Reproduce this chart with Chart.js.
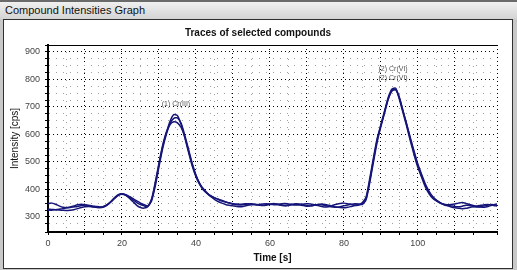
<!DOCTYPE html>
<html>
<head>
<meta charset="utf-8">
<script src="https://cdn.jsdelivr.net/npm/chart.js@4.4.1/dist/chart.umd.min.js"></script>
<style>
  body { margin: 0; width: 517px; height: 270px; background: #c8c8c8; overflow: hidden; position: relative; font-family: "Liberation Sans", Arial, sans-serif; }
  #bar { position: absolute; left: 0; top: 0; width: 517px; height: 19px; background: linear-gradient(#f0f0f0, #d4d4d4); border-top: 2px solid #6a6a6a; box-sizing: border-box; }
  #bar span { position: absolute; left: 5px; top: 2px; font-size: 11px; color: #111; }
  #panel { position: absolute; left: 3px; top: 19px; width: 508px; height: 248px; background: #fff; border: 1px solid #303030; }
  canvas { position: absolute; left: 0; top: 0; }
</style>
</head>
<body>
<div id="bar"><span>Compound Intensities Graph</span></div>
<div id="panel"></div>
<canvas id="graph" width="517" height="270"></canvas>
<script>
'use strict';

// time points [s]
const times = [
  0, 1, 2, 3, 4, 5, 6, 7, 8, 9, 10, 11, 12, 13, 14, 15, 16, 17, 18, 19,
  20, 21, 22, 23, 24, 25, 26, 27, 28, 29, 30, 31, 32, 33, 34, 35, 36, 37, 38, 39,
  40, 41, 42, 43, 44, 45, 46, 47, 48, 49, 50, 51, 52, 53, 54, 55, 56, 57, 58, 59,
  60, 61, 62, 63, 64, 65, 66, 67, 68, 69, 70, 71, 72, 73, 74, 75, 76, 77, 78, 79,
  80, 81, 82, 83, 84, 85, 86, 87, 88, 89, 90, 91, 92, 93, 94, 95, 96, 97, 98, 99,
  100, 101, 102, 103, 104, 105, 106, 107, 108, 109, 110, 111, 112, 113, 114, 115, 116, 117, 118, 119,
  120, 121, 122
];

// intensity traces [cps]
const trace1 = [
  348, 350, 346, 340, 335, 333, 334, 336, 338, 341, 343, 342, 340, 338, 336, 338, 345, 356, 370, 381,
  384, 380, 372, 362, 352, 345, 340, 338, 362, 420, 490, 556, 606, 648, 672, 668, 636, 588, 535, 485,
  446, 418, 398, 385, 375, 369, 364, 358, 354, 351, 348, 347, 346, 347, 348, 346, 344, 345, 347, 348,
  346, 344, 345, 347, 349, 347, 345, 343, 344, 346, 348, 347, 344, 341, 338, 336, 338, 342, 346, 349,
  350, 348, 345, 343, 344, 352, 372, 440, 515, 585, 635, 685, 735, 765, 768, 728, 678, 628, 575, 525,
  480, 445, 410, 385, 368, 358, 350, 345, 342, 340, 338, 337, 339, 342, 341, 338, 336, 337, 340, 343,
  345, 343, 341
];
const trace2 = [
  325, 324, 326, 328, 330, 333, 336, 340, 344, 346, 344, 340, 337, 335, 334, 337, 344, 355, 368, 379,
  383, 381, 374, 366, 358, 350, 344, 340, 358, 412, 482, 548, 600, 640, 658, 660, 640, 596, 545, 494,
  452, 422, 402, 388, 377, 370, 364, 360, 355, 350, 346, 344, 343, 345, 347, 348, 346, 343, 342, 344,
  347, 349, 347, 344, 342, 343, 346, 348, 347, 344, 341, 340, 342, 345, 347, 345, 342, 339, 336, 334,
  333, 335, 338, 341, 343, 348, 366, 432, 508, 580, 632, 682, 730, 760, 764, 735, 685, 635, 582, 532,
  486, 450, 415, 390, 372, 360, 352, 346, 344, 345, 347, 350, 352, 349, 345, 341, 338, 336, 335, 338,
  342, 346, 348
];
const trace3 = [
  328, 327, 326, 325, 324, 323, 324, 326, 330, 334, 337, 338, 337, 335, 334, 336, 343, 354, 367, 378,
  382, 378, 368, 355, 342, 334, 332, 338, 365, 425, 495, 560, 608, 636, 646, 642, 625, 590, 540, 490,
  450, 420, 400, 386, 374, 364, 356, 350, 345, 342, 340, 338, 337, 339, 342, 344, 345, 343, 341, 342,
  345, 347, 345, 342, 340, 341, 344, 346, 344, 341, 339, 340, 343, 345, 344, 341, 338, 336, 335, 337,
  340, 343, 346, 348, 347, 345, 362, 425, 500, 572, 628, 678, 728, 758, 762, 732, 684, 636, 586, 538,
  492, 455, 420, 394, 374, 361, 352, 345, 340, 336, 333, 331, 330, 331, 334, 337, 340, 342, 344, 345,
  343, 340, 338
];

// peak labels
const labelTimes = [34.6, 93.3];
const labelTexts = [['(1) Cr(III)'], ['(2) Cr(VI)', '(2) Cr(VI)']];

const lineColor = '#16167a';
const fontFamily = '"Liberation Sans", Arial, sans-serif';

function toPoints(values) {
  return values.map((v, i) => ({ x: times[i], y: v }));
}

// major grid lines: x every 10 s (and right edge), y every 100 cps
function isMajorX(c) {
  return c.tick && (c.tick.value % 10 === 0 || c.tick.value > 121);
}
function isMajorY(c) {
  return c.tick && c.tick.value % 100 === 0;
}

// text above each peak
const peakLabels = {
  id: 'peakLabels',
  afterDatasetsDraw(chart) {
    const ctx = chart.ctx;
    const xs = chart.scales.x;
    const ys = chart.scales.y;
    ctx.save();
    ctx.font = '7px ' + fontFamily;
    ctx.fillStyle = '#555';
    ctx.textAlign = 'center';
    ctx.textBaseline = 'bottom';
    labelTimes.forEach((t, n) => {
      let top = -Infinity;
      chart.data.datasets.forEach(ds => {
        ds.data.forEach(p => {
          if (Math.abs(p.x - t) <= 2 && p.y > top) top = p.y;
        });
      });
      const px = xs.getPixelForValue(t);
      let py = ys.getPixelForValue(top) - 7;
      const lines = labelTexts[n];
      for (let k = lines.length - 1; k >= 0; k--) {
        ctx.fillText(lines[k], px, py);
        py -= 9;
      }
    });
    ctx.restore();
  }
};

new Chart(document.getElementById('graph'), {
  type: 'line',
  data: {
    datasets: [trace1, trace2, trace3].map((tr, i) => ({
      label: 'trace ' + (i + 1),
      data: toPoints(tr),
      borderColor: lineColor,
      backgroundColor: 'transparent',
      borderWidth: 1.5,
      pointRadius: 0,
      tension: 0.2,
      fill: false
    }))
  },
  options: {
    responsive: false,
    animation: false,
    layout: { padding: { left: 4, right: 5, top: 20, bottom: 2 } },
    scales: {
      x: {
        type: 'linear',
        min: 0,
        max: 121.4,
        // border.dash is used for the grid lines in v4
        border: { color: '#000', width: 2, dash: (c) => isMajorX(c) ? [1, 3] : [1, 6] },
        grid: {
          color: (c) => isMajorX(c) ? '#000' : '#a0a0a0',
          tickColor: '#000',
          tickLength: 3,
          tickBorderDash: []
        },
        ticks: {
          stepSize: 5,
          autoSkip: false,
          maxRotation: 0,
          padding: 3,
          color: '#444',
          font: { family: fontFamily, size: 9 },
          callback: (v) => v % 20 === 0 ? v : ''
        },
        title: {
          display: true,
          text: 'Time [s]',
          color: '#111',
          font: { family: fontFamily, size: 10, weight: 'bold' },
          padding: { top: 0, bottom: 4 }
        },
        afterFit: (s) => { s.height = 36; }
      },
      xTop: {
        type: 'linear',
        position: 'top',
        min: 0,
        max: 121.4,
        border: { color: '#000', width: 1 },
        grid: { drawOnChartArea: false, drawTicks: false },
        ticks: { display: false },
        afterFit: (s) => { s.height = 0; }
      },
      y: {
        type: 'linear',
        min: 245,
        max: 925,
        border: { color: '#000', width: 2, dash: (c) => isMajorY(c) ? [1, 3] : [1, 6] },
        grid: {
          color: (c) => isMajorY(c) ? '#000' : '#a0a0a0',
          tickColor: '#000',
          tickLength: 3,
          tickBorderDash: []
        },
        ticks: {
          stepSize: 25,
          autoSkip: false,
          padding: 5,
          color: '#444',
          font: { family: fontFamily, size: 9 },
          callback: (v) => v % 100 === 0 ? v : ''
        },
        title: {
          display: true,
          text: 'Intensity [cps]',
          color: '#111',
          font: { family: fontFamily, size: 10 },
          padding: { top: 5, bottom: 0 }
        },
        afterFit: (s) => { s.width = 44; }
      },
      yRight: {
        type: 'linear',
        position: 'right',
        min: 245,
        max: 925,
        border: { display: false },
        grid: { drawOnChartArea: false, drawTicks: false },
        ticks: { display: false, stepSize: 25 },
        afterFit: (s) => { s.width = 15; }
      }
    },
    plugins: {
      legend: { display: false },
      tooltip: { enabled: false },
      title: {
        display: true,
        text: 'Traces of selected compounds',
        color: '#111',
        font: { family: fontFamily, size: 10, weight: 'bold' },
        padding: { top: 7, bottom: 6 }
      }
    }
  },
  plugins: [peakLabels]
});
</script>
</body>
</html>
